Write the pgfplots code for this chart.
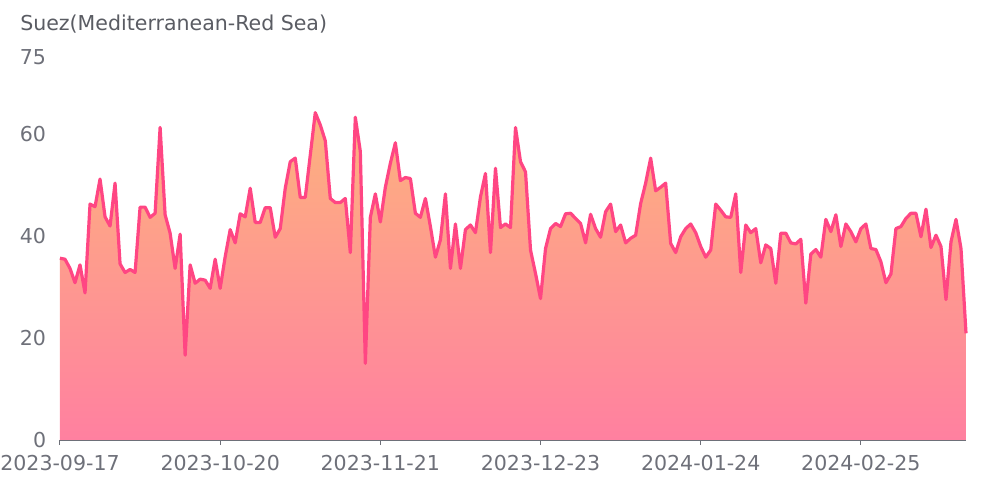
\documentclass[border=0pt]{standalone}
\usepackage{pgfplots}
\usepackage{pgfplotstable}
\pgfplotsset{compat=1.18}
\usepackage{fontspec}
\setmainfont{DejaVu Sans}
\definecolor{lab}{HTML}{6E7079}
\definecolor{ttl}{HTML}{5A5C63}
\definecolor{ln}{RGB}{255,70,131}
\definecolor{topc}{RGB}{253,178,126}
\definecolor{botc}{RGB}{255,128,160}

\pgfplotstableread{
i v
0 35.6
1 35.4
2 33.6
3 30.8
4 34.3
5 28.8
6 46.2
7 45.7
8 51.1
9 43.7
10 41.9
11 50.3
12 34.5
13 32.8
14 33.4
15 32.8
16 45.6
17 45.6
18 43.6
19 44.4
20 61.2
21 44.1
22 40.5
23 33.6
24 40.3
25 16.6
26 34.3
27 30.7
28 31.5
29 31.3
30 29.7
31 35.4
32 29.7
33 35.9
34 41.2
35 38.6
36 44.3
37 43.7
38 49.3
39 42.6
40 42.6
41 45.5
42 45.5
43 39.7
44 41.4
45 49.3
46 54.5
47 55.2
48 47.5
49 47.5
50 55.8
51 64.1
52 61.7
53 58.6
54 47.3
55 46.5
56 46.5
57 47.3
58 36.7
59 63.2
60 56.5
61 15.0
62 43.6
63 48.2
64 42.7
65 49.5
66 54.2
67 58.2
68 50.8
69 51.4
70 51.2
71 44.4
72 43.6
73 47.3
74 41.8
75 35.8
76 39.2
77 48.2
78 33.6
79 42.3
80 33.6
81 41.2
82 42.1
83 40.6
84 47.6
85 52.2
86 36.7
87 53.2
88 41.6
89 42.3
90 41.6
91 61.2
92 54.5
93 52.5
94 37.2
95 32.6
96 27.7
97 37.5
98 41.4
99 42.4
100 41.8
101 44.3
102 44.4
103 43.4
104 42.4
105 38.6
106 44.2
107 41.4
108 39.7
109 44.7
110 46.2
111 40.8
112 42.1
113 38.6
114 39.5
115 40.1
116 46.3
117 50.3
118 55.2
119 48.8
120 49.5
121 50.3
122 38.5
123 36.7
124 39.8
125 41.4
126 42.3
127 40.6
128 37.9
129 35.8
130 37.2
131 46.2
132 45.0
133 43.7
134 43.6
135 48.2
136 32.8
137 42.1
138 40.6
139 41.4
140 34.7
141 38.2
142 37.5
143 30.7
144 40.5
145 40.5
146 38.6
147 38.4
148 39.3
149 26.8
150 36.4
151 37.3
152 35.8
153 43.2
154 40.8
155 44.1
156 37.9
157 42.3
158 40.8
159 38.8
160 41.4
161 42.3
162 37.5
163 37.3
164 34.9
165 30.8
166 32.5
167 41.4
168 41.8
169 43.4
170 44.4
171 44.4
172 39.8
173 45.2
174 37.7
175 40.1
176 37.9
177 27.5
178 38.8
179 43.2
180 37.5
181 20.9
}\suez

\begin{document}
\begin{tikzpicture}[x=0.75pt,y=0.75pt]
\path[use as bounding box] (-60,-40) rectangle (921,440);
\begin{axis}[
  at={(0,0)}, anchor=south west,
  width=679.5pt, height=287.25pt, scale only axis,
  xmin=0, xmax=181, ymin=0, ymax=75,
  axis line style={draw=none},
  xtick={0,32,64,96,128,160},
  xticklabels={2023-09-17,2023-10-20,2023-11-21,2023-12-23,2024-01-24,2024-02-25},
  ytick={0,20,40,60,75},
  xtick pos=lower, ytick pos=left,
  tick align=outside,
  major tick length=3.75pt,
  xtick style={draw=lab, line width=0.75pt},
  ytick style={draw=none},
  /pgf/number format/assume math mode=true,
  ticklabel style={font=\fontsize{15.4}{18}\selectfont, text=lab},
  yticklabel style={inner sep=0pt, xshift=-6.5pt},
  xticklabel style={yshift=-4pt},
  clip=false,
]
\addplot[draw=none, shade, top color=topc, bottom color=botc] table[x=i, y=v] {\suez} \closedcycle;
\addplot[ln, line width=2.4pt, line join=round] table[x=i, y=v] {\suez};
\draw[lab, line width=0.75pt] (rel axis cs:0,0) -- (rel axis cs:1,0);
\end{axis}
\node[anchor=west, inner sep=0pt, text=ttl, font=\fontsize{15.4}{18}\selectfont] at (-40,416) {Suez(Mediterranean-Red Sea)};
\end{tikzpicture}
\end{document}
